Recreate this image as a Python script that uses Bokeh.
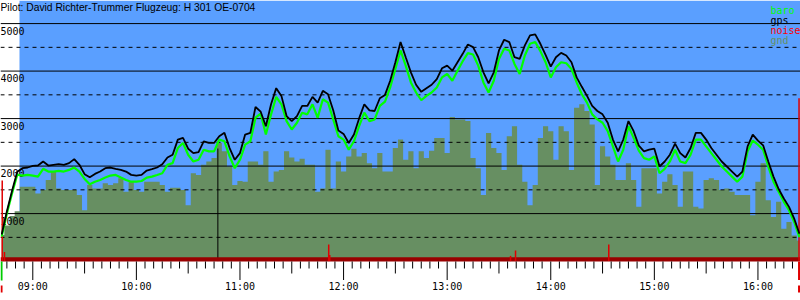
from bokeh.plotting import figure
from bokeh.models import Range1d, Label
from bokeh.embed import file_html
from bokeh.resources import INLINE
from bokeh.core.properties import value

# ---------------- data ----------------
title_text = "Pilot: David Richter-Trummer Flugzeug: H 301 OE-0704"
legend_names = ["baro", "gps", "noise", "gnd"]

# samples every 3 minutes, time in minutes after midnight
t_first = 522
t_step = 3

gps = [560, 1050, 1480, 1880, 1956, 1970, 2005, 2012, 2097, 2012,
       2027, 2040, 2027, 2062, 2147, 2027, 1830, 1765, 1835, 1885,
       1956, 1970, 1942, 1920, 1885, 1815, 1800, 1814, 1906, 1935,
       1970, 2040, 2182, 2239, 2558, 2593, 2366, 2274, 2296, 2522,
       2487, 2487, 2628, 2700, 2380, 2133, 2274, 2664, 2700, 3244,
       3145, 2840, 3301, 3641, 3478, 3053, 2947, 3053, 3266, 3266,
       3457, 3336, 3584, 3513, 3174, 2749, 2678, 2487, 2664, 3004,
       3301, 3174, 3160, 3428, 3499, 3797, 4186, 4611, 4292, 3974,
       3712, 3563, 3640, 3712, 3832, 4059, 4115, 4009, 4186, 4363,
       4561, 4505, 4292, 3974, 3740, 3974, 4434, 4660, 4611, 4292,
       4257, 4540, 4752, 4774, 4575, 4342, 4094, 4292, 4384, 4328,
       4186, 3867, 3669, 3478, 3266, 3160, 3089, 2912, 2558, 2310,
       2558, 2947, 2735, 2430, 2310, 2345, 2366, 1991, 2097, 2239,
       2473, 2274, 2182, 2381, 2700, 2700, 2558, 2381, 2239, 2097,
       1991, 1885, 1779, 1885, 2416, 2664, 2537, 2437, 2097, 1779,
       1517, 1319, 1142, 894, 575]

baro = [520, 1000, 1430, 1820, 1800, 1814, 1800, 1779, 1942, 1885,
        1885, 1900, 1885, 1920, 1970, 1885, 1730, 1616, 1672, 1708,
        1758, 1800, 1814, 1758, 1708, 1672, 1672, 1686, 1758, 1779,
        1814, 1850, 2027, 2062, 2380, 2487, 2239, 2097, 2133, 2345,
        2310, 2310, 2558, 2522, 2204, 1956, 2133, 2451, 2522, 3018,
        3103, 2664, 3089, 3457, 3301, 2947, 2770, 2912, 3124, 3089,
        3301, 3018, 3407, 3336, 2982, 2628, 2558, 2345, 2522, 2841,
        3124, 2947, 2982, 3266, 3358, 3655, 4044, 4434, 4115, 3761,
        3549, 3386, 3478, 3549, 3655, 3867, 3938, 3797, 4009, 4207,
        4377, 4349, 4115, 3761, 3549, 3797, 4257, 4469, 4434, 4150,
        3938, 4328, 4575, 4611, 4420, 4186, 3867, 4080, 4186, 4165,
        4044, 3761, 3513, 3336, 3089, 2982, 2912, 2735, 2416, 2097,
        2345, 2841, 2593, 2324, 2168, 2133, 2204, 1850, 1942, 2097,
        2345, 2097, 2062, 2239, 2558, 2558, 2416, 2274, 2133, 1991,
        1885, 1779, 1672, 1779, 2310, 2537, 2451, 2345, 1991, 1672,
        1460, 1248, 1071, 823, 504]

gnd = [550, 750, 950, 1050, 1566, 1566, 1566, 1425, 1495, 1708,
       1885, 1530, 1495, 1495, 1495, 1390, 1070, 1600, 1530, 1530,
       1637, 1600, 1637, 1743, 1460, 1672, 1495, 1460, 1672, 1672,
       1672, 1600, 1460, 1545, 1545, 1495, 1177, 1850, 1814, 2027,
       2097, 2168, 2487, 2310, 1991, 1600, 1686, 1672, 2097, 2097,
       2027, 2310, 1672, 1885, 1920, 2310, 2182, 2097, 2154, 2027,
       2027, 1460, 1530, 2345, 1530, 2097, 1885, 2204, 2366, 2204,
       2274, 2062, 1956, 2274, 1885, 1885, 2380, 2558, 2133, 2310,
       1956, 2310, 2168, 2324, 2593, 2593, 2274, 3032, 2982, 2982,
       2947, 2168, 1956, 1389, 2699, 2380, 2274, 1920, 2628, 2841,
       2027, 1672, 1177, 1602, 2593, 2841, 2735, 2133, 2841, 2735,
       1920, 3230, 3301, 3160, 2877, 1602, 2416, 2204, 2027, 1708,
       1708, 2062, 1708, 1142, 1956, 1956, 1956, 1425, 1672, 1828,
       1602, 1142, 1885, 1885, 1142, 1106, 1708, 1743, 1708, 1495,
       1530, 1460, 1389, 1389, 1389, 965, 1672, 2062, 1283, 929,
       1248, 681, 823, 540, 433]

times = [t_first + i * t_step for i in range(len(gps))]

noise_t = [522.3, 523.6, 711.4, 712.0, 816.7, 819.6, 873.6, 983.8]
noise_v = [1695, 190, 350, 130, 110, 225, 350, 3430]

takeoff_t = 521.9
landing_t = 983.8
marker_t = 647.2      # black vertical marker
marker_alt = 2370
blue_start_t = 532.3  # start of blue (flight) background

alt_major = [1000, 2000, 3000, 4000, 5000]
alt_minor = [500, 1500, 2500, 3500, 4500]
hour_marks = [540, 600, 660, 720, 780, 840, 900, 960]
hour_labels = ["09:00", "10:00", "11:00", "12:00", "13:00", "14:00", "15:00", "16:00"]

# ---------------- styling ----------------
BLUE = "#5a9fff"
GND = "#678f62"
BAR = "#990000"
MONO = value("DejaVu Sans Mono")

x0, x1 = 521.3, 984.65
y0, y1 = -829.5, 5486

p = figure(width=800, height=300, output_backend="svg", toolbar_location=None,
           x_range=Range1d(x0, x1), y_range=Range1d(y0, y1),
           min_border=0, min_border_left=0, min_border_right=0,
           min_border_top=0, min_border_bottom=0)
p.axis.visible = False
p.grid.visible = False
p.outline_line_color = None
p.background_fill_color = "white"
p.border_fill_color = "white"

# blue background
p.quad(left=[blue_start_t], right=[x1], bottom=[0], top=[y1],
       fill_color=BLUE, line_color=None)

# ground
p.varea_step(x=times, y1=[0] * len(gnd), y2=gnd, step_mode="center",
             fill_color=GND)

# grid lines
p.segment(x0=[x0] * len(alt_major), x1=[x1] * len(alt_major),
          y0=alt_major, y1=alt_major, line_color="black", line_width=1)
p.segment(x0=[x0] * len(alt_minor), x1=[x1] * len(alt_minor),
          y0=alt_minor, y1=alt_minor, line_color="black", line_width=1,
          line_dash="4 4")

# altitude labels
p.text(x=[x0] * len(alt_major), y=alt_major, text=[str(a) for a in alt_major],
       text_font=MONO, text_font_size="10px", text_color="black",
       text_baseline="top", text_align="left", y_offset=3)

# marker line
p.segment(x0=[marker_t], x1=[marker_t], y0=[0], y1=[marker_alt],
          line_color="black", line_width=1)

# baseline bar
p.quad(left=[x0], right=[x1], bottom=[-8], top=[82], fill_color=BAR, line_color=None)

# noise
p.segment(x0=noise_t, x1=noise_t, y0=[0] * len(noise_t), y1=noise_v,
          line_color="#e00000", line_width=1.5)

# flight lines
p.line(times, baro, line_color="#00ff00", line_width=2.2)
p.line(times, gps, line_color="black", line_width=1.8)

# time ticks
tick_times = list(range(525, 985, 5))
minor = [t for t in tick_times if t % 30 != 0]
medium = [t for t in tick_times if t % 60 == 30]
p.segment(x0=minor, x1=minor, y0=[-8] * len(minor), y1=[-156] * len(minor),
          line_color="black", line_width=1)
p.segment(x0=medium, x1=medium, y0=[-8] * len(medium), y1=[-261] * len(medium),
          line_color="black", line_width=1)
p.segment(x0=hour_marks, x1=hour_marks, y0=[-8] * len(hour_marks),
          y1=[-398] * len(hour_marks), line_color="black", line_width=1)
p.text(x=hour_marks, y=[-535] * len(hour_marks), text=hour_labels,
       text_font=MONO, text_font_size="10px", text_color="black",
       text_baseline="middle", text_align="center")

# takeoff / landing markers
p.segment(x0=[takeoff_t], x1=[takeoff_t], y0=[-8], y1=[-410],
          line_color="#00cc00", line_width=2)
p.segment(x0=[takeoff_t, landing_t], x1=[takeoff_t, landing_t],
          y0=[-513, -513], y1=[-661, -661], line_color="#e00000", line_width=2)
p.segment(x0=[landing_t], x1=[landing_t], y0=[-8], y1=[-398],
          line_color="#e00000", line_width=2)

# title
p.add_layout(Label(x=0, y=293, x_units="screen", y_units="screen", text=title_text,
                   text_font="Liberation Sans", text_font_size="10.3px",
                   text_color="black", text_baseline="middle"))

# legend
leg_colors = ["#00ff00", "black", "#ff0000", GND]
for i, (name, col) in enumerate(zip(legend_names, leg_colors)):
    p.add_layout(Label(x=770, y=290 - 10 * i, x_units="screen", y_units="screen",
                       text=name, text_font="DejaVu Sans Mono", text_font_size="10px",
                       text_color=col, text_baseline="alphabetic"))

open("out.html", "w").write(file_html(p, INLINE))
